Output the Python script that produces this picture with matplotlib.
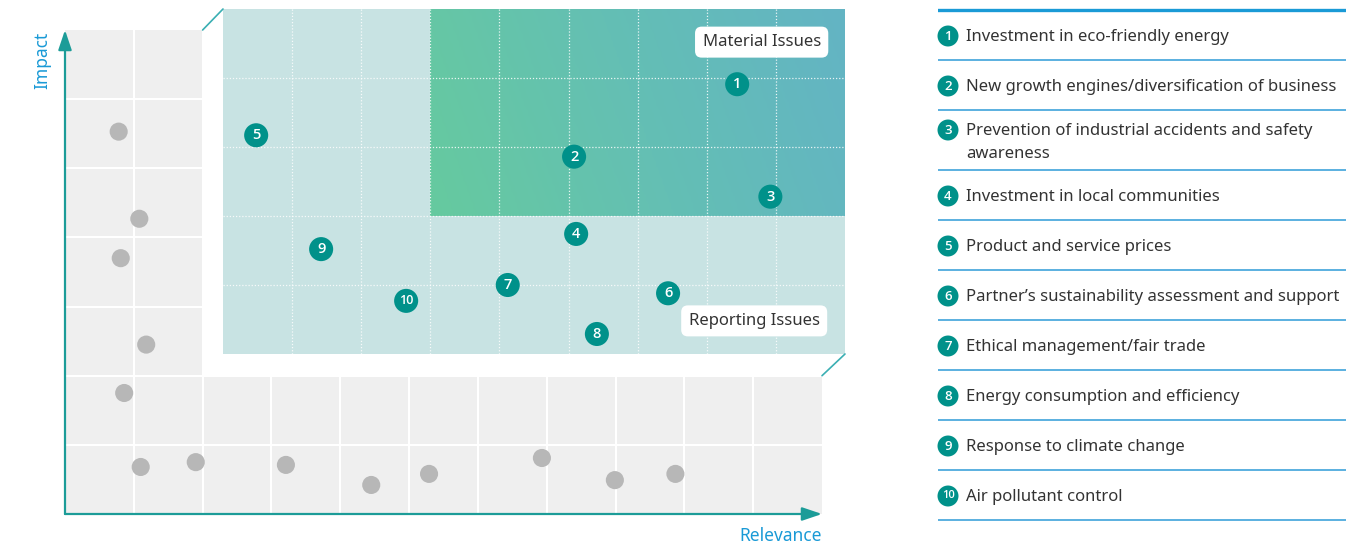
import matplotlib
matplotlib.use("Agg")
import matplotlib.pyplot as plt
import numpy as np
from matplotlib.patches import Rectangle, ConnectionPatch
from matplotlib.colors import LinearSegmentedColormap

plt.rcParams['font.family'] = ['Noto Sans', 'DejaVu Sans']

# Issues plotted on the raised panel (relevance, impact)
issue_ids = [1, 2, 3, 4, 5, 6, 7, 8, 9, 10]
issue_rel = [9.44, 7.08, 9.92, 7.11, 2.48, 8.44, 6.12, 7.41, 3.42, 4.65]
issue_imp = [5.91, 4.86, 4.28, 3.74, 5.17, 2.88, 3.00, 2.29, 3.52, 2.77]
issue_names = [
    "Investment in eco-friendly energy",
    "New growth engines/diversification of business",
    "Prevention of industrial accidents and safety\nawareness",
    "Investment in local communities",
    "Product and service prices",
    "Partner\u2019s sustainability assessment and support",
    "Ethical management/fair trade",
    "Energy consumption and efficiency",
    "Response to climate change",
    "Air pollutant control",
]

# Remaining (non-material) issues
other_rel = [0.78, 1.08, 0.81, 1.18, 0.86, 1.10, 1.90, 3.21, 4.45, 5.29, 6.93, 7.99, 8.87]
other_imp = [5.53, 4.27, 3.70, 2.45, 1.75, 0.68, 0.75, 0.71, 0.42, 0.58, 0.81, 0.49, 0.58]

W, H = 1364, 547
TEAL = "#00918A"
AXIS_TEAL = "#1C9C98"
BLUE = "#1A9AD6"
GREY_BG = "#EFEFEF"
PANEL = "#C8E3E3"
TXT = "#333333"
NUM_FONT = ["Open Sans", "DejaVu Sans"]

fig = plt.figure(figsize=(W / 100, H / 100), dpi=100)

def px_axes(x0, y0, x1, y1):
    return fig.add_axes([x0 / W, 1 - y1 / H, (x1 - x0) / W, (y1 - y0) / H])

# --- base grey matrix
ax = px_axes(65, 30, 822, 514)
ax.set_xlim(0, 11)
ax.set_ylim(0, 7)
ax.set_facecolor(GREY_BG)
for s in ax.spines.values():
    s.set_visible(False)
ax.set_xticks([])
ax.set_yticks([])
for i in range(1, 11):
    ax.axvline(i, color="white", lw=1.5, zorder=1)
for j in range(1, 7):
    ax.axhline(j, color="white", lw=1.5, zorder=1)
ax.add_patch(Rectangle((2, 2), 9, 5.2, facecolor="white", edgecolor="none", zorder=2, clip_on=False))
ax.scatter(other_rel, other_imp, s=170, color="#B7B7B7", edgecolors="none", zorder=3)

arrow_style = "-|>,head_length=0.8,head_width=0.27"
ax.annotate("", xy=(0, 7), xytext=(0, 0),
            arrowprops=dict(arrowstyle=arrow_style, color=AXIS_TEAL, lw=1.6,
                            mutation_scale=15, shrinkA=0, shrinkB=0), zorder=5)
ax.annotate("", xy=(11, 0), xytext=(0, 0),
            arrowprops=dict(arrowstyle=arrow_style, color=AXIS_TEAL, lw=1.6,
                            mutation_scale=15, shrinkA=0, shrinkB=0), zorder=5)
fig.text(42 / W, 1 - 60 / H, "Impact", rotation=90, color=BLUE, fontsize=12.5,
         ha="center", va="center")
fig.text(822 / W, 1 - 536 / H, "Relevance", color=BLUE, fontsize=12.5,
         ha="right", va="center")

# --- raised panel
axr = px_axes(223, 9, 845, 354)
axr.set_facecolor(PANEL)
for s in axr.spines.values():
    s.set_visible(False)
axr.set_xticks([])
axr.set_yticks([])

gx, gy = np.meshgrid(np.linspace(0, 1, 200), np.linspace(0, 1, 60))
grad = 0.85 * gx + 0.15 * gy
cmap = LinearSegmentedColormap.from_list("mat", ["#66CA9F", "#64BFB4", "#63B4C4"])
axr.imshow(grad, extent=(5, 11, 4, 7), origin="lower", aspect="auto", cmap=cmap, zorder=1)
axr.set_xlim(2, 11)
axr.set_ylim(2, 7)

for i in range(3, 11):
    axr.axvline(i, color="white", lw=0.9, ls=(0, (1, 1.5)), alpha=0.85, zorder=2)
for j in range(3, 7):
    axr.axhline(j, color="white", lw=0.9, ls=(0, (1, 1.5)), alpha=0.85, zorder=2)

axr.scatter(issue_rel, issue_imp, s=300, color=TEAL, edgecolors="none", zorder=4)
for n, x, y in zip(issue_ids, issue_rel, issue_imp):
    axr.text(x, y, str(n), color="white", fontsize=10.5 if n < 10 else 9, ha="center",
             va="center", family=NUM_FONT, fontweight="semibold", zorder=5)

box = dict(boxstyle="round,pad=0.45,rounding_size=0.4", facecolor="white", edgecolor="none")
axr.text(0.866, 0.904, "Material Issues", transform=axr.transAxes, ha="center", va="center",
         fontsize=12, color=TXT, bbox=box, zorder=6)
axr.text(0.854, 0.096, "Reporting Issues", transform=axr.transAxes, ha="center", va="center",
         fontsize=12, color=TXT, bbox=box, zorder=6)

# connectors between the base grid and the raised panel
for p in [(2, 7), (11, 2)]:
    fig.add_artist(ConnectionPatch(xyA=p, coordsA=ax.transData, xyB=p, coordsB=axr.transData,
                                   color="#3AAFB3", lw=1.2))

# --- numbered list
axl = px_axes(938, 0, 1346, H)
axl.set_xlim(0, 408)
axl.set_ylim(H, 0)
axl.axis("off")
row_h = [50, 50, 60, 50, 50, 50, 50, 50, 50, 50]
top = 10
axl.axhline(top, color=BLUE, lw=2.4)
for n, name, h in zip(issue_ids, issue_names, row_h):
    cy = top + (26 if "\n" not in name else 20)
    axl.scatter([10], [cy], s=228, color=TEAL, edgecolors="none", zorder=3, clip_on=False)
    axl.text(10, cy, str(n), color="white", fontsize=9.5 if n < 10 else 8, ha="center",
             va="center", family=NUM_FONT, fontweight="semibold", zorder=4)
    axl.text(28, cy - 7, name, color=TXT, fontsize=12, ha="left", va="top", linespacing=1.55)
    top += h
    axl.axhline(top, color="#4DAADD", lw=1.3)

fig.savefig("out.png", dpi=100)
